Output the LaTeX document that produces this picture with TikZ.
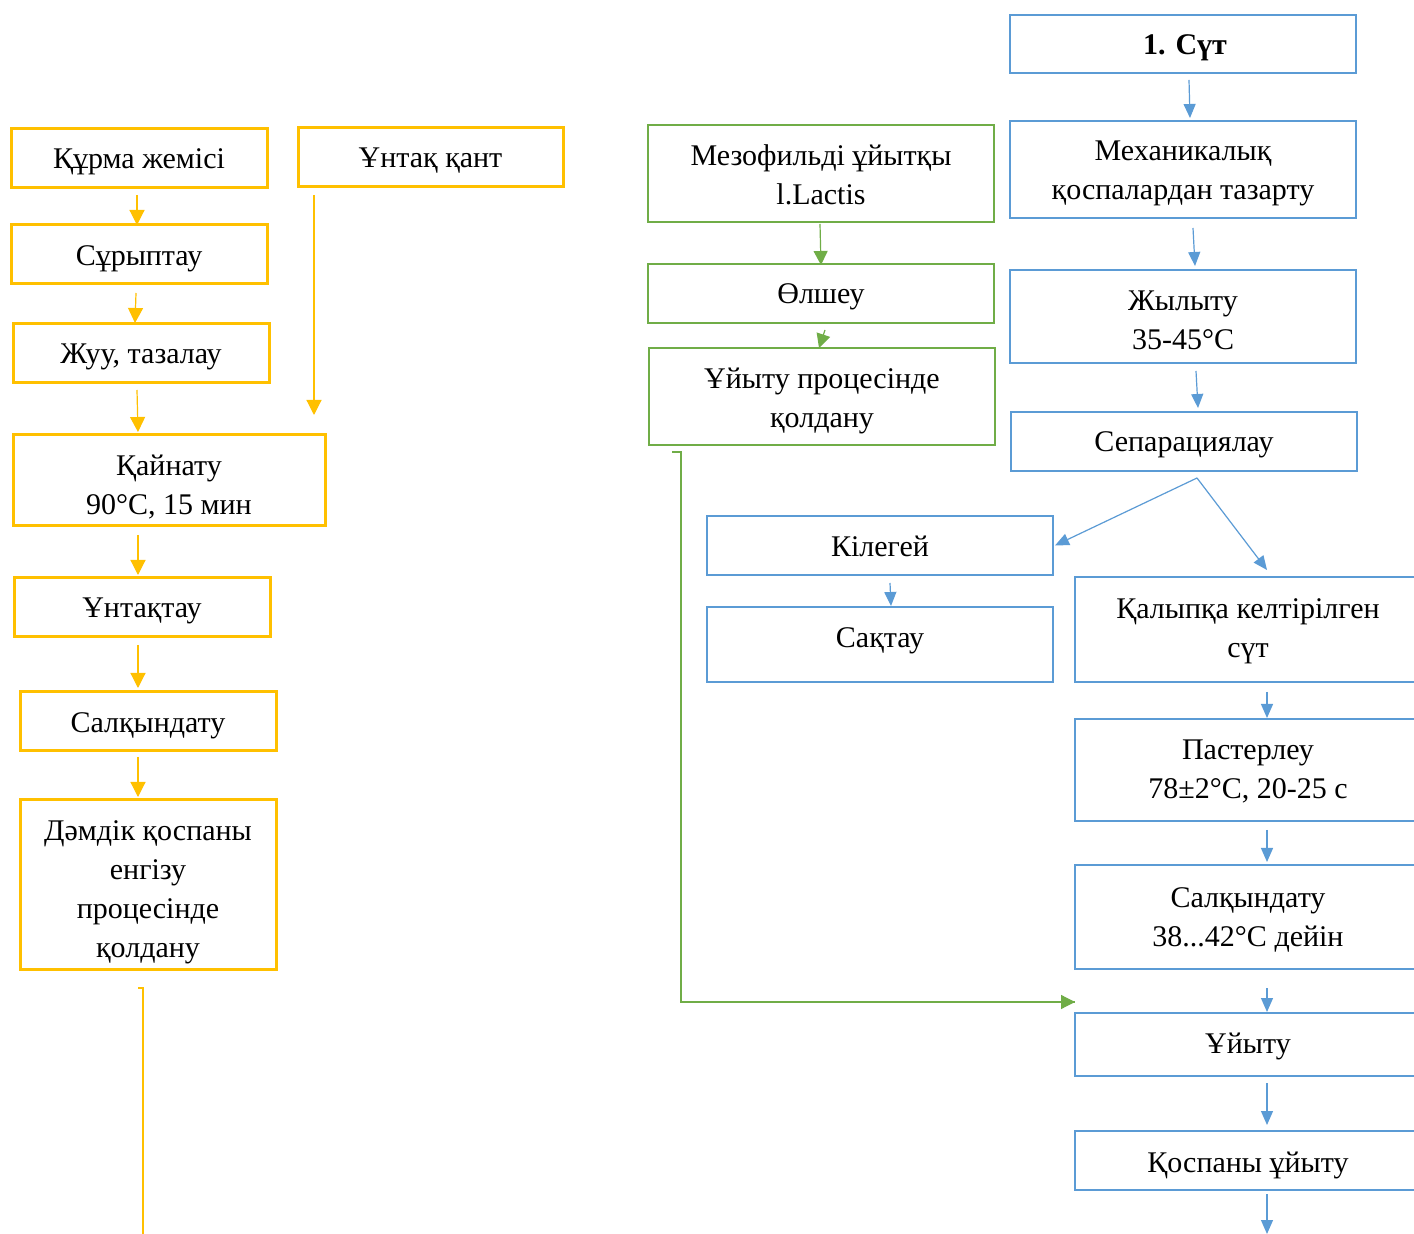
\documentclass[tikz,border=0pt]{standalone}
\usepackage{fontspec}
\setmainfont{Liberation Serif}
\usetikzlibrary{arrows.meta,calc}
\definecolor{cyel}{HTML}{FFC000}
\definecolor{cgrn}{HTML}{70AD47}
\definecolor{cblu}{HTML}{5B9BD5}
\tikzset{
  box/.style={draw, line width=1.3pt, inner sep=0pt, outer sep=0pt},
  ybox/.style={box, draw=cyel, line width=1.5pt},
  gbox/.style={box, draw=cgrn},
  bbox/.style={box, draw=cblu},
  txt/.style={inner sep=0pt, align=center, font=\fontsize{15}{19.5}\selectfont, text=black},
  yarr/.style={draw=cyel, line width=0.6pt, -{Triangle[length=7.5pt,width=7.5pt]}, cyel},
  garr/.style={draw=cgrn, line width=0.6pt, -{Triangle[length=7pt,width=7pt]}, cgrn},
  barr/.style={draw=cblu, line width=0.6pt, -{Triangle[length=7pt,width=6pt]}, cblu},
  yline/.style={draw=cyel, line width=0.7pt},
  gline/.style={draw=cgrn, line width=0.6pt},
}
\begin{document}
\begin{tikzpicture}[x=0.5pt,y=-0.5pt]
\useasboundingbox (0,0) rectangle (1414,1234);
\clip (0,0) rectangle (1414,1234);
\fill[white] (0,0) rectangle (1414,1234);

% ---------- yellow column ----------
\node[ybox, minimum width=128pt, minimum height=29.5pt] (kurma) at (139,158.5) {};
\node[ybox, minimum width=132.5pt, minimum height=29.5pt] (untak) at (430.5,157.5) {};
\node[ybox, minimum width=128pt, minimum height=29.5pt] (suryp) at (139,254.5) {};
\node[ybox, minimum width=128pt, minimum height=29.5pt] (zhuu) at (141,353.5) {};
\node[ybox, minimum width=156pt, minimum height=45.5pt] (kain) at (169,480.5) {};
\node[ybox, minimum width=128pt, minimum height=29.5pt] (untaktau) at (142,607.5) {};
\node[ybox, minimum width=128pt, minimum height=29.5pt] (salk1) at (148,721.5) {};
\node[ybox, minimum width=128pt, minimum height=84.5pt] (damdik) at (148,884.5) {};

\node[txt] (kurma-t) at ($(kurma)+(0,3)$) {Құрма жемісі};
\node[txt] (untak-t) at ($(untak)+(0,3)$) {Ұнтақ қант};
\node[txt] (suryp-t) at ($(suryp)+(0,4)$) {Сұрыптау};
\node[txt] (zhuu-t) at ($(zhuu)+(0,3)$) {Жуу, тазалау};
\node[txt] (kain-t) at ($(kain)+(0,6.5)$) {Қайнату\\90°C, 15 мин};
\node[txt] (untaktau-t) at ($(untaktau)+(0,3)$) {Ұнтақтау};
\node[txt] (salk1-t) at ($(salk1)+(0,4)$) {Салқындату};
\node[txt] (damdik-t) at ($(damdik)+(0,8)$) {Дәмдік қоспаны\\енгізу\\процесінде\\қолдану};

\draw[yarr] ($(kurma.south)+(-2,7)$) -- ($(suryp.north)+(-2,0)$);
\draw[yarr] ($(suryp.south)+(-3,9)$) -- ($(zhuu.north)+(-6,-1)$);
\draw[yarr] ($(zhuu.south)+(-4,7)$) -- ($(kain.north)+(-31,-3)$);
\coordinate (untakend) at ($(untak.south west)+(16,228)$);
\draw[yarr] ($(untak.south west)+(16,8)$) -- (untakend);
\draw[yarr] ($(kain.south)+(-31,9)$) -- ($(untaktau.north)+(-4,-3)$);
\draw[yarr] ($(untaktau.south)+(-4,8)$) -- ($(salk1.north)+(-10,-4)$);
\draw[yarr] ($(salk1.south)+(-10,6)$) -- ($(damdik.north)+(-10,-3)$);
\coordinate (yout) at ($(damdik.south)+(-5,280)$);
\draw[yline] ($(damdik.south)+(-10,19)$) -- ++(5,0) -- (yout);

% ---------- green column ----------
\node[gbox, minimum width=173pt, minimum height=48.5pt] (mezo) at (821,173.5) {};
\node[gbox, minimum width=173pt, minimum height=29.5pt] (olsheu) at (821,293.5) {};
\node[gbox, minimum width=173pt, minimum height=48.5pt] (proc) at (822,396.5) {};

\node[txt] (mezo-t) at ($(mezo)+(0,1)$) {Мезофильді ұйытқы\\l.Lactis};
\node[txt] (olsheu-t) at ($(olsheu)+(0,3)$) {Өлшеу};
\node[txt] (proc-t) at ($(proc)+(0,4)$) {Ұйыту процесінде\\қолдану};

\draw[garr] ($(mezo.south)+(-1,2)$) -- ($(olsheu.north)+(0,1)$);
\draw[garr] ($(olsheu.south)+(4,7)$) -- ($(proc.north)+(-3,0)$);

% ---------- blue column ----------
\node[bbox, minimum width=173pt, minimum height=29pt] (sut) at (1183,44) {};
\node[bbox, minimum width=173pt, minimum height=48.5pt] (mech) at (1183,169.5) {};
\node[bbox, minimum width=173pt, minimum height=46.5pt] (zhyl) at (1183,316.5) {};
\node[bbox, minimum width=173pt, minimum height=29.5pt] (separ) at (1184,441.5) {};
\node[bbox, minimum width=173pt, minimum height=29.5pt] (kileg) at (880,545.5) {};
\node[bbox, minimum width=173pt, minimum height=37.5pt] (sakt) at (880,644.5) {};
\node[bbox, minimum width=173pt, minimum height=52.5pt] (kalyp) at (1248,629.5) {};
\node[bbox, minimum width=173pt, minimum height=51pt] (paster) at (1248,770) {};
\node[bbox, minimum width=173pt, minimum height=52pt] (salk2) at (1248,917) {};
\node[bbox, minimum width=173pt, minimum height=31.5pt] (uiytu) at (1248,1044.5) {};
\node[bbox, minimum width=173pt, minimum height=29.5pt] (kosp) at (1248,1160.5) {};

\node[txt, font=\fontsize{15}{19.5}\selectfont\bfseries] (sut-t) at ($(sut)+(2,4)$) {1. Сүт};
\node[txt] (mech-t) at ($(mech)+(0,4)$) {Механикалық\\қоспалардан тазарту};
\node[txt] (zhyl-t) at ($(zhyl)+(0,3.5)$) {Жылыту\\35-45°C};
\node[txt] (separ-t) at ($(separ)+(0,3)$) {Сепарациялау};
\node[txt] (kileg-t) at ($(kileg)+(0,1)$) {Кілегей};
\node[txt] (sakt-t) at ($(sakt)+(0,-4)$) {Сақтау};
\node[txt] (kalyp-t) at ($(kalyp)+(0,2)$) {Қалыпқа келтірілген\\сүт};
\node[txt] (paster-t) at ($(paster)+(0,1.5)$) {Пастерлеу\\78±2°C, 20-25 с};
\node[txt] (salk2-t) at ($(salk2)+(0,3)$) {Салқындату\\38...42°C дейін};
\node[txt] (uiytu-t) at ($(uiytu)+(0,2)$) {Ұйыту};
\node[txt] (kosp-t) at ($(kosp)+(0,5)$) {Қоспаны ұйыту};

\draw[barr] ($(sut.south)+(6,7)$) -- ($(mech.north)+(7,-3)$);
\draw[barr] ($(mech.south)+(10,10)$) -- ($(zhyl.north)+(12,-4)$);
\draw[barr] ($(zhyl.south)+(13,8)$) -- ($(separ.north)+(14,-4)$);
\coordinate (split) at ($(separ.south)+(13,7)$);
\draw[barr] (split) -- ($(kileg.east)+(2,0)$);
\draw[barr] (split) -- ($(kalyp.north)+(19,-7)$);
\draw[barr] ($(kileg.south)+(10,8)$) -- ($(sakt.north)+(11,-1)$);
\draw[barr] ($(kalyp.south)+(19,10)$) -- ($(paster.north)+(19,-1)$);
\draw[barr] ($(paster.south)+(19,9)$) -- ($(salk2.north)+(19,-3)$);
\draw[barr] ($(salk2.south)+(19,19)$) -- ($(uiytu.north)+(19,-1)$);
\draw[barr] ($(uiytu.south)+(19,7)$) -- ($(kosp.north)+(19,-6)$);
\coordinate (bout) at ($(kosp.south)+(19,44)$);
\draw[barr] ($(kosp.south)+(19,4)$) -- (bout);

% green feed into Ұйыту
\coordinate (gend) at ($(uiytu.north west)+(0,-11)$);
\draw[gline] ($(proc.south west)+(23,7)$) -- ++(9,0) |- (gend);
\draw[garr] ($(gend)+(-5,0)$) -- (gend);
\end{tikzpicture}
\end{document}
